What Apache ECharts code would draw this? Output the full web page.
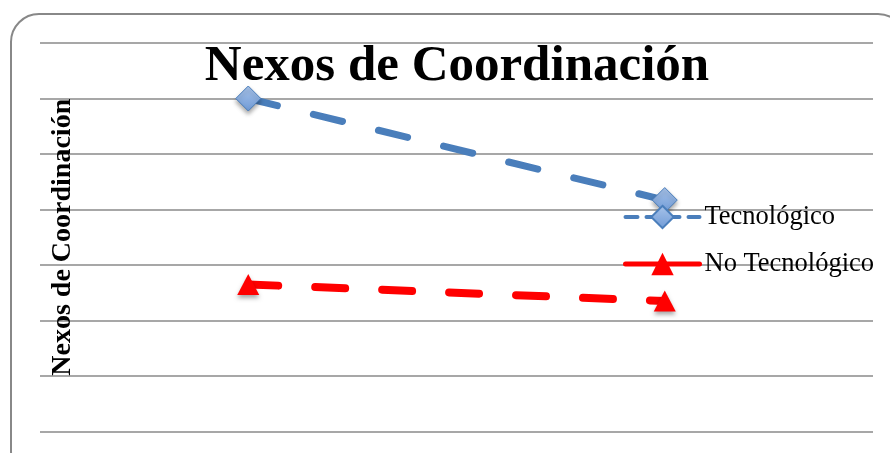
<!DOCTYPE html>
<html>
<head>
<meta charset="utf-8">
<script src="https://cdn.jsdelivr.net/npm/echarts@6/dist/echarts.min.js"></script>
<style>html,body{margin:0;padding:0;background:#fff}#c{width:890px;height:453px}</style>
</head>
<body>
<div id="c"></div>
<script>
const categories = ['Periodo 1', 'Periodo 2'];
const tecnologico = [6.0, 4.17];
const noTecnologico = [2.65, 2.35];
const seriesNames = ['Tecnológico', 'No Tecnológico'];
const titleText = 'Nexos de Coordinación';
const yAxisName = 'Nexos de Coordinación';

const chart = echarts.init(document.getElementById('c'), null, {renderer: 'canvas'});
const serif = 'Liberation Serif';
chart.setOption({
  animation: false,
  backgroundColor: '#fff',
  graphic: [{
    type: 'rect', silent: true, z: -1,
    shape: {x: 11, y: 14, width: 895, height: 465, r: 28},
    style: {fill: 'none', stroke: '#888', lineWidth: 2}
  }],
  title: {
    text: titleText, left: 452, textAlign: 'center', top: 36,
    textStyle: {fontFamily: serif, fontWeight: 'bold', fontSize: 51, color: '#000'}
  },
  legend: {
    orient: 'vertical', left: 618, top: 197, itemGap: 17,
    itemWidth: 74, itemHeight: 28,
    textStyle: {fontFamily: serif, fontSize: 26.5, color: '#000', lineHeight: 30},
    data: [
      {name: seriesNames[0], lineStyle: {width: 4, type: [12, 9]}},
      {name: seriesNames[1], lineStyle: {type: 'solid', width: 5}}
    ]
  },
  grid: {left: 40, right: 17, top: 43, bottom: 21.5, containLabel: false},
  xAxis: {
    type: 'category', data: categories, boundaryGap: true,
    axisLine: {show: false}, axisTick: {show: false}, axisLabel: {show: false}, splitLine: {show: false}
  },
  yAxis: {
    type: 'value', min: 0, max: 7, interval: 1,
    axisLine: {show: false}, axisTick: {show: false}, axisLabel: {show: false},
    splitLine: {show: true, lineStyle: {color: '#8a8a8a', width: 1.5}},
    name: yAxisName, nameLocation: 'middle', nameGap: -37, nameRotate: 90,
    nameTextStyle: {fontFamily: serif, fontWeight: 'bold', fontSize: 28, color: '#000'}
  },
  series: [
    {
      name: seriesNames[0], type: 'line', data: tecnologico,
      symbol: 'diamond', symbolSize: 25,
      lineStyle: {color: '#4a7ebb', width: 7, type: [30, 37], cap: 'round'},
      itemStyle: {
        color: new echarts.graphic.LinearGradient(0, 0, 0, 1, [
          {offset: 0, color: '#a9c4ea'}, {offset: 1, color: '#6f9ad6'}
        ]),
        borderColor: '#4a7ebb', borderWidth: 1,
        shadowBlur: 4, shadowColor: 'rgba(0,0,0,0.35)', shadowOffsetY: 3
      }
    },
    {
      name: seriesNames[1], type: 'line', data: noTecnologico,
      symbol: 'triangle', symbolSize: [22, 21],
      lineStyle: {color: '#ff0000', width: 8, type: [30, 37], cap: 'round'},
      itemStyle: {
        color: '#ff0000', borderColor: '#ff0000', borderWidth: 0,
        shadowBlur: 4, shadowColor: 'rgba(0,0,0,0.35)', shadowOffsetY: 3
      }
    }
  ]
});
</script>
</body>
</html>
